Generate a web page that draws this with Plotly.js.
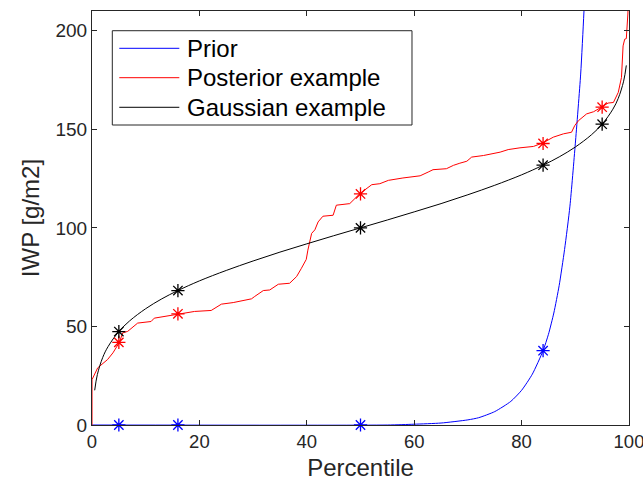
<!DOCTYPE html>
<html>
<head>
<meta charset="utf-8">
<script src="https://cdn.plot.ly/plotly-3.0.1.min.js"></script>
<style>html,body{margin:0;padding:0;background:#fff;}#chart{width:643px;height:489px;}</style>
</head>
<body>
<div id="chart"></div>
<script>
// Prior (blue) curve
const priorX = [0, 55, 60, 65, 70, 72, 75, 78, 80, 82, 84, 85, 86, 87, 88, 89, 90, 91, 91.6, 92.2];
const priorY = [0, 0, 0.4, 1.0, 2.6, 3.7, 6.8, 12.0, 17.6, 25.8, 37.7, 46, 56.8, 70.8, 89, 111, 142.6, 178, 209, 245];
const priorMarkX = [5, 16, 50, 84];
const priorMarkY = [0, 0, 0, 37.7];

// Posterior example (red)
const postX = [0, 0, 1.06, 2.9, 3.9, 5.1, 5.7, 6.65, 8.5, 11, 11.6, 14.1, 16, 19.1, 22.2, 22.9, 24.1, 26.3, 28.5, 29.7, 30.3, 31.9, 33.1, 34, 34.7, 36.8, 38.1, 39, 39.9, 40.2, 40.6, 40.9, 41.5, 42.1, 43, 44.9, 45.5, 48, 49.9, 51.1, 52.1, 53.6, 55.2, 57.9, 61.1, 62.6, 63.5, 66, 67.3, 68.5, 69.8, 70.7, 72.9, 76, 77.5, 79.7, 82.2, 83.9, 85.3, 85.9, 87.8, 89.3, 89.9, 90.6, 92.1, 93.4, 94.8, 96.1, 97.1, 98, 98.6, 98.8, 98.9, 99.2, 99.5, 99.8, 99.9];
const postY = [0, 23, 29, 33.2, 36.6, 41.9, 46.7, 47.5, 51.7, 52.5, 54.2, 55.4, 56.4, 57.6, 58.1, 59.3, 61.3, 62.1, 63.5, 64, 65.2, 68.2, 68.5, 70.2, 71.4, 71.9, 75.3, 79.5, 84, 88.7, 93.8, 97.2, 99, 103, 105.9, 106.4, 111.5, 112.3, 117.4, 119.9, 121.9, 122.4, 124.1, 125.3, 126.4, 128.3, 129.5, 130, 131.7, 132.8, 133.8, 135.9, 136.7, 138.4, 139.7, 140.6, 141.3, 143, 145.2, 146, 147.7, 148.5, 151.9, 154.4, 157.8, 158.9, 161.1, 163.3, 163.6, 168.7, 176.3, 187.2, 192.3, 195.7, 196, 209, 230];
const postMarkX = [5, 16, 50, 84, 95];
const postMarkY = [41.9, 56.4, 117.2, 142.8, 161.2];

// Gaussian example (black)
const gaussX = [0.5, 1, 2, 3, 5, 7, 10, 13, 16, 20, 25, 30, 35, 40, 45, 50, 55, 60, 65, 70, 75, 80, 84, 87, 90, 93, 95, 97, 98, 99, 99.5];
const gaussY = [17.6, 25.6, 34.3, 39.8, 47.4, 52.8, 59.0, 64.0, 68.2, 73.1, 78.4, 83.2, 87.7, 91.9, 96.0, 100, 104.0, 108.1, 112.3, 116.8, 121.6, 126.9, 131.8, 136.0, 141.0, 147.2, 152.6, 160.2, 165.7, 174.4, 182.4];
const gaussMarkX = [5, 16, 50, 84, 95];
const gaussMarkY = [47.4, 68.2, 100, 131.8, 152.6];

const names = ['Prior', 'Posterior example', 'Gaussian example'];
const colors = ['#0000ff', '#ff0000', '#000000'];
const xTicks = [0, 20, 40, 60, 80, 100];
const yTicks = [0, 50, 100, 150, 200];

const mk = (c) => ({symbol: 'asterisk-open', size: 11, color: c, line: {color: c, width: 1.3}});

const data = [
  {x: priorX, y: priorY, mode: 'lines', name: names[0], line: {color: colors[0], width: 1, shape: 'spline', smoothing: 0.6}},
  {x: postX, y: postY, mode: 'lines', name: names[1], line: {color: colors[1], width: 1}},
  {x: gaussX, y: gaussY, mode: 'lines', name: names[2], line: {color: colors[2], width: 1, shape: 'spline'}},
  {x: priorMarkX, y: priorMarkY, mode: 'markers', marker: mk(colors[0]), cliponaxis: false},
  {x: postMarkX, y: postMarkY, mode: 'markers', marker: mk(colors[1])},
  {x: gaussMarkX, y: gaussMarkY, mode: 'markers', marker: mk(colors[2])}
];

// Legend drawn as a box with line samples and text labels (paper coordinates)
const axCol = '#262626';
const legRowsY = [0.9099, 0.8389, 0.7674];
const shapes = [
  {type: 'rect', xref: 'paper', yref: 'paper', x0: 0.0378, x1: 0.5959, y0: 0.7246, y1: 0.9524,
   line: {color: axCol, width: 1}, fillcolor: '#fff', layer: 'above'}
];
const annotations = [];
names.forEach((n, i) => {
  shapes.push({type: 'line', xref: 'paper', yref: 'paper', x0: 0.0508, x1: 0.1626, y0: legRowsY[i], y1: legRowsY[i],
    line: {color: colors[i], width: 1}, layer: 'above'});
  annotations.push({xref: 'paper', yref: 'paper', x: 0.173, y: legRowsY[i], xanchor: 'left', yanchor: 'middle',
    text: n, showarrow: false, font: {size: 24, color: '#000'}});
});

const layout = {
  width: 643, height: 489,
  margin: {l: 92, r: 14, t: 11, b: 64},
  paper_bgcolor: '#fff', plot_bgcolor: '#fff',
  font: {family: '"Liberation Sans", Arial, sans-serif', color: axCol, size: 19},
  showlegend: false,
  shapes: shapes,
  annotations: annotations,
  xaxis: {
    range: [0, 100], tickvals: xTicks, ticktext: xTicks.map(String),
    ticks: 'inside', ticklen: 5, tickcolor: axCol, showline: true, linecolor: axCol, linewidth: 1,
    mirror: 'ticks', showgrid: false, zeroline: false, ticklabeloverflow: 'allow', ticklabelshift: -2.5,
    tickfont: {size: 18.5, color: axCol},
    title: {text: 'Percentile', font: {size: 24, color: axCol}, standoff: 7}
  },
  yaxis: {
    range: [0, 210], tickvals: yTicks, ticktext: yTicks.map(String),
    ticks: 'inside', ticklen: 5, tickcolor: axCol, showline: true, linecolor: axCol, linewidth: 1,
    mirror: 'ticks', showgrid: false, zeroline: false,
    tickfont: {size: 19, color: axCol},
    title: {text: 'IWP [g/m2]', font: {size: 24, color: axCol}, standoff: 9}
  }
};

Plotly.newPlot('chart', data, layout, {staticPlot: true, displayModeBar: false});
</script>
</body>
</html>
